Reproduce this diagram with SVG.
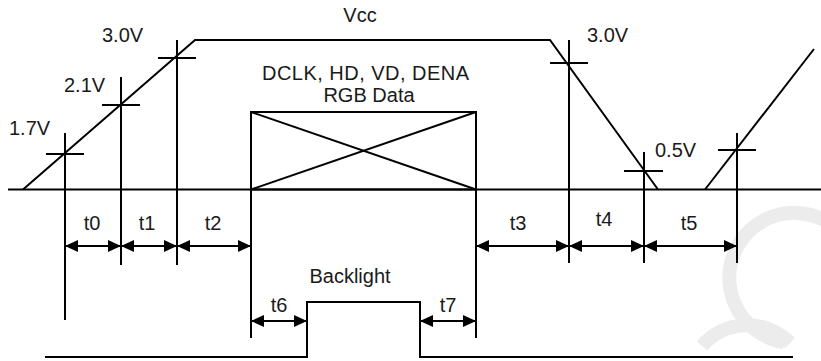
<svg xmlns="http://www.w3.org/2000/svg" width="821" height="361" viewBox="0 0 821 361">
<style>
.ln{fill:none;stroke:#000;stroke-width:2}
.ar{fill:none;stroke:#000;stroke-width:2;marker-start:url(#ah);marker-end:url(#ah)}
.tx{font-family:"Liberation Sans",Arial,sans-serif;font-size:20px;fill:#1a1a1a}
.wm{fill:none;stroke:#ececec;stroke-width:14}
</style>
<defs>
<marker id="ah" viewBox="0 0 13 12" refX="13" refY="6" markerWidth="13" markerHeight="12" markerUnits="userSpaceOnUse" orient="auto-start-reverse">
<path d="M0,0 L13,6 L0,12 z" fill="#000"/>
</marker>
</defs>
<rect width="821" height="361" fill="#fff"/>
<g id="watermark">
<path class="wm" d="M851,246 A65,65 0 1 0 784,342"/>
<path class="wm" d="M702,346 A60,60 0 0 1 790,343"/>
</g>
<g id="baseline"><line class="ln" x1="8" y1="189.5" x2="821" y2="189.5"/></g>
<g id="vcc">
<polyline class="ln" points="23,189.5 195,40 550,40 658,189.5"/>
<line class="ln" x1="705" y1="189.5" x2="814" y2="49"/>
<text class="tx" x="360" y="22" text-anchor="middle">Vcc</text>
</g>
<g id="markers">
<line class="ln" x1="65" y1="133" x2="65" y2="320"/>
<line class="ln" x1="46" y1="154" x2="84" y2="154"/>
<line class="ln" x1="121" y1="77" x2="121" y2="265"/>
<line class="ln" x1="102" y1="105" x2="140" y2="105"/>
<line class="ln" x1="177" y1="40" x2="177" y2="265"/>
<line class="ln" x1="158" y1="58" x2="196" y2="58"/>
<line class="ln" x1="569" y1="40" x2="569" y2="263"/>
<line class="ln" x1="550" y1="63" x2="588" y2="63"/>
<line class="ln" x1="644" y1="152" x2="644" y2="263"/>
<line class="ln" x1="624" y1="171" x2="663" y2="171"/>
<line class="ln" x1="737" y1="133" x2="737" y2="263"/>
<line class="ln" x1="718" y1="150" x2="756" y2="150"/>
<text class="tx" x="9" y="135">1.7V</text>
<text class="tx" x="64" y="92">2.1V</text>
<text class="tx" x="102" y="42">3.0V</text>
<text class="tx" x="587" y="42">3.0V</text>
<text class="tx" x="655" y="157">0.5V</text>
</g>
<g id="data">
<rect class="ln" x="251" y="112" width="225" height="77.5"/>
<line class="ln" x1="251" y1="112" x2="476" y2="189.5"/>
<line class="ln" x1="251" y1="189.5" x2="476" y2="112"/>
<line class="ln" x1="251" y1="112" x2="251" y2="338"/>
<line class="ln" x1="476" y1="112" x2="476" y2="338"/>
<text class="tx" x="262" y="80" font-size="18.5" textLength="207" lengthAdjust="spacing">DCLK, HD, VD, DENA</text>
<text class="tx" x="369" y="102" text-anchor="middle" font-size="18.5">RGB Data</text>
</g>
<g id="backlight">
<polyline class="ln" points="45,357 307,357 307,302 420,302 420,357 793,357"/>
<text class="tx" x="350" y="283" text-anchor="middle">Backlight</text>
</g>
<g id="connectors">
<line class="ar" x1="65" y1="246" x2="121" y2="246"/>
<line class="ar" x1="121" y1="246" x2="177" y2="246"/>
<line class="ar" x1="177" y1="246" x2="251" y2="246"/>
<line class="ar" x1="476" y1="246" x2="569" y2="246"/>
<line class="ar" x1="569" y1="246" x2="644" y2="246"/>
<line class="ar" x1="644" y1="246" x2="737" y2="246"/>
<line class="ar" x1="251" y1="321" x2="307" y2="321"/>
<line class="ar" x1="420" y1="321" x2="476" y2="321"/>
</g>
<g id="labels">
<text class="tx" x="92" y="230" text-anchor="middle">t0</text>
<text class="tx" x="147" y="230" text-anchor="middle">t1</text>
<text class="tx" x="213" y="230" text-anchor="middle">t2</text>
<text class="tx" x="518" y="230" text-anchor="middle">t3</text>
<text class="tx" x="604" y="226" text-anchor="middle">t4</text>
<text class="tx" x="689" y="230" text-anchor="middle">t5</text>
<text class="tx" x="279" y="312" text-anchor="middle">t6</text>
<text class="tx" x="448" y="312" text-anchor="middle">t7</text>
</g>
</svg>
